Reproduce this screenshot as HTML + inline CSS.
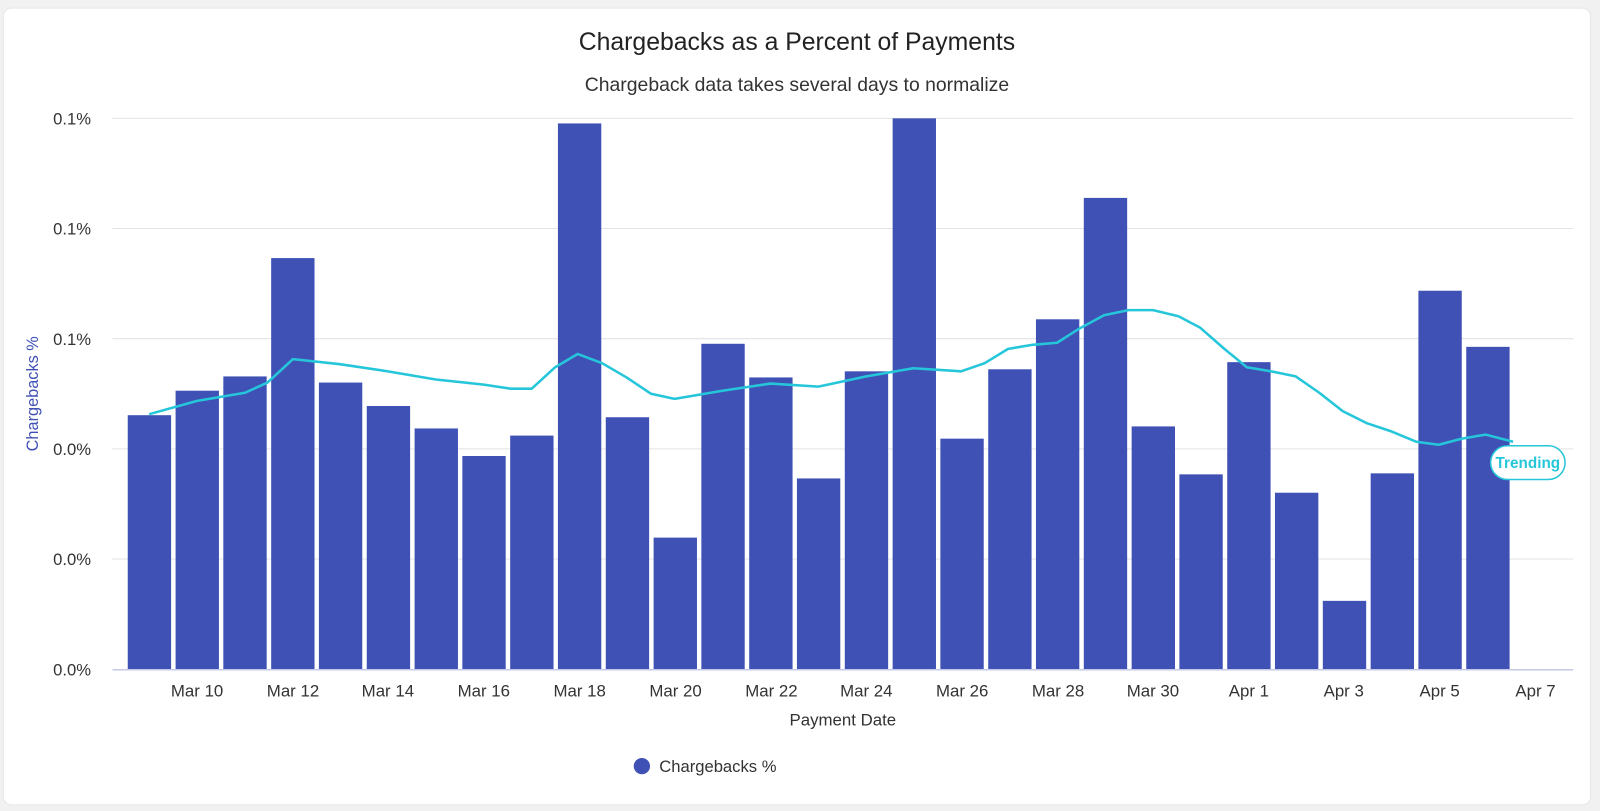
<!DOCTYPE html>
<html><head><meta charset="utf-8"><style>
html,body{margin:0;padding:0;background:#f1f1f1;width:1600px;height:811px;overflow:hidden}
svg{display:block;font-family:"Liberation Sans",Roboto,sans-serif}
</style></head><body>
<svg width="1600" height="811" viewBox="0 0 1568 795" xmlns="http://www.w3.org/2000/svg">
<rect x="0" y="0" width="1568" height="795" fill="#f1f1f1"/>
<rect x="3" y="8" width="1556" height="781" rx="8" fill="#fff" stroke="#e6e6e6"/>
<text x="781" y="49" text-anchor="middle" font-size="24.3" fill="#222">Chargebacks as a Percent of Payments</text>
<text x="781" y="89" text-anchor="middle" font-size="19" fill="#333">Chargeback data takes several days to normalize</text>
<g stroke="#e3e3e3" stroke-width="1">
<line x1="110" x2="1542" y1="116" y2="116"/><line x1="110" x2="1542" y1="224" y2="224"/>
<line x1="110" x2="1542" y1="332" y2="332"/><line x1="110" x2="1542" y1="440" y2="440"/>
<line x1="110" x2="1542" y1="548" y2="548"/>
</g>
<g font-size="16.3" fill="#333" text-anchor="end">
<text x="89" y="122">0.1%</text><text x="89" y="230">0.1%</text><text x="89" y="338">0.1%</text>
<text x="89" y="446">0.0%</text><text x="89" y="554">0.0%</text><text x="89" y="662">0.0%</text>
</g>
<text transform="translate(37,386) rotate(-90)" text-anchor="middle" font-size="16" fill="#3f51b5">Chargebacks %</text>
<g fill="#3f51b5">
<rect x="125.0" y="407" width="42.5" height="249"/>
<rect x="171.9" y="383" width="42.5" height="273"/>
<rect x="218.7" y="369" width="42.5" height="287"/>
<rect x="265.6" y="253" width="42.5" height="403"/>
<rect x="312.4" y="375" width="42.5" height="281"/>
<rect x="359.3" y="398" width="42.5" height="258"/>
<rect x="406.2" y="420" width="42.5" height="236"/>
<rect x="453.0" y="447" width="42.5" height="209"/>
<rect x="499.9" y="427" width="42.5" height="229"/>
<rect x="546.7" y="121" width="42.5" height="535"/>
<rect x="593.6" y="409" width="42.5" height="247"/>
<rect x="640.5" y="527" width="42.5" height="129"/>
<rect x="687.3" y="337" width="42.5" height="319"/>
<rect x="734.2" y="370" width="42.5" height="286"/>
<rect x="781.0" y="469" width="42.5" height="187"/>
<rect x="827.9" y="364" width="42.5" height="292"/>
<rect x="874.8" y="116" width="42.5" height="540"/>
<rect x="921.6" y="430" width="42.5" height="226"/>
<rect x="968.5" y="362" width="42.5" height="294"/>
<rect x="1015.3" y="313" width="42.5" height="343"/>
<rect x="1062.2" y="194" width="42.5" height="462"/>
<rect x="1109.1" y="418" width="42.5" height="238"/>
<rect x="1155.9" y="465" width="42.5" height="191"/>
<rect x="1202.8" y="355" width="42.5" height="301"/>
<rect x="1249.6" y="483" width="42.5" height="173"/>
<rect x="1296.5" y="589" width="42.5" height="67"/>
<rect x="1343.4" y="464" width="42.5" height="192"/>
<rect x="1390.2" y="285" width="42.5" height="371"/>
<rect x="1437.1" y="340" width="42.5" height="316"/>
</g>
<line x1="110" x2="1542" y1="656.5" y2="656.5" stroke="#c5cae9" stroke-width="1.5"/>
<g font-size="16.5" fill="#333" text-anchor="middle">
<text x="193" y="683">Mar 10</text><text x="287" y="683">Mar 12</text><text x="380" y="683">Mar 14</text>
<text x="474" y="683">Mar 16</text><text x="568" y="683">Mar 18</text><text x="662" y="683">Mar 20</text>
<text x="756" y="683">Mar 22</text><text x="849" y="683">Mar 24</text><text x="943" y="683">Mar 26</text>
<text x="1037" y="683">Mar 28</text><text x="1130" y="683">Mar 30</text><text x="1224" y="683">Apr 1</text>
<text x="1317" y="683">Apr 3</text><text x="1411" y="683">Apr 5</text><text x="1505" y="683">Apr 7</text>
</g>
<text x="826" y="711" text-anchor="middle" font-size="16.5" fill="#333">Payment Date</text>
<circle cx="629" cy="751" r="8" fill="#3f51b5"/>
<text x="646" y="757" font-size="16.3" fill="#333">Chargebacks %</text>
<polyline fill="none" stroke="#26c6da" stroke-width="2.5" stroke-linejoin="round" points="146,406 193,393 240,385 262,375 287,352 333,357 380,364 427,372 474,377 500,381 521,381 544,360 566,347 590,356 614,370 638,386 661,391 708,383 755,376 802,379 849,369 895,361 942,364 965,356 988,342 1012,338 1036,336 1058,322 1082,309 1106,304 1130,304 1155,310 1176,321 1200,342 1222,360 1246,364 1270,369 1293,385 1316,403 1340,415 1364,423 1388,433 1410,436 1433,430 1456,426 1483,433"/>
<rect x="1461" y="437" width="73" height="33" rx="16.5" fill="#fff" stroke="#26c6da" stroke-width="1.5"/>
<text x="1497.5" y="459" text-anchor="middle" font-size="15" font-weight="bold" fill="#26c6da">Trending</text>
</svg>
</body></html>
